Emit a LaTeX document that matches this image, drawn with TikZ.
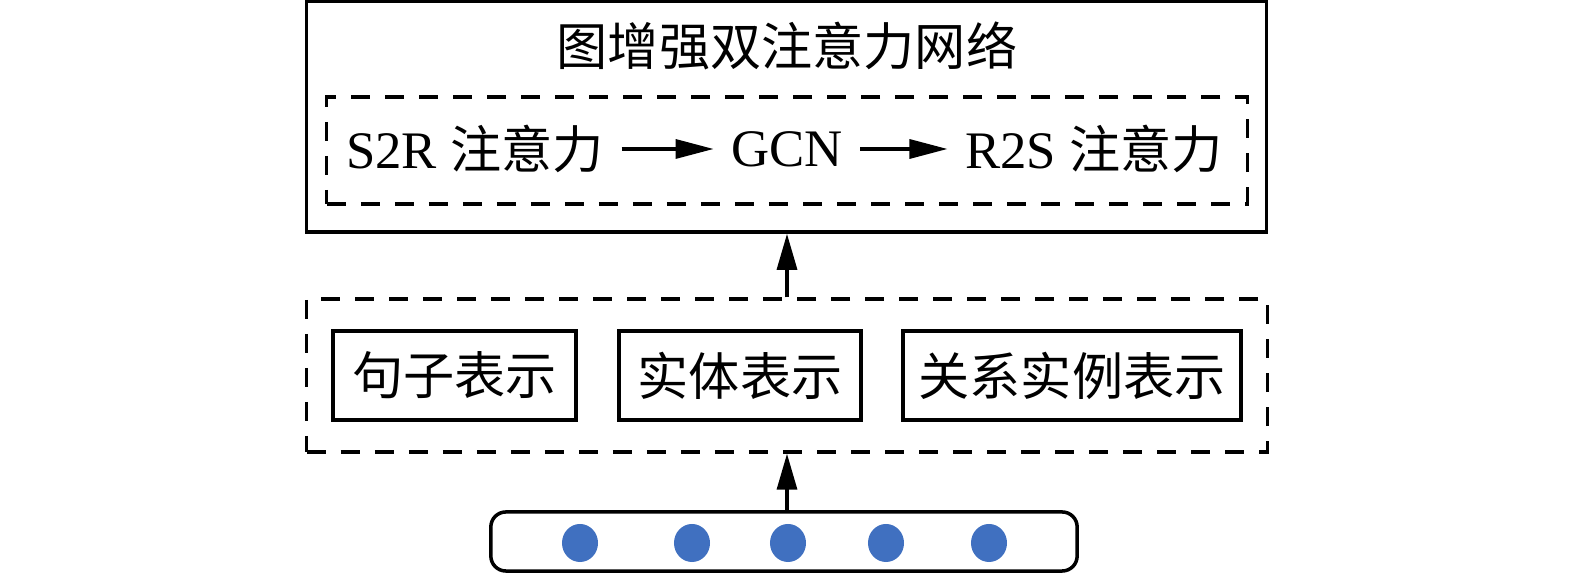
\documentclass[tikz,border=0pt]{standalone}
\usepackage{fontspec}
\setmainfont{Liberation Serif}
\newfontfamily\cjk[Scale=0.97]{Noto Sans CJK SC}
\usetikzlibrary{arrows.meta}
\definecolor{dotblue}{RGB}{64,112,192}
\tikzset{
  solidbox/.style={draw, line width=0.035cm, inner sep=0pt},
  dashbox/.style={draw, line width=0.033cm, dash pattern=on 0.19cm off 0.15cm, inner sep=0pt},
  label/.style={inner sep=0.17cm},
  arr/.style={line width=0.033cm, -{Triangle[length=0.36cm, width=0.2cm]}},
  harr/.style={line width=0.033cm, -{Triangle[length=0.38cm, width=0.19cm]}},
  dot/.style={ellipse, fill=dotblue, inner sep=0pt, minimum width=0.36cm, minimum height=0.38cm}
}
\usetikzlibrary{shapes.geometric}
\begin{document}
\begin{tikzpicture}[x=0.01cm, y=-0.01cm]
    \useasboundingbox (0,0) rectangle (1575,574);
    {\fontsize{15pt}{18pt}\selectfont

    % Drawing network box
    \node [solidbox, minimum width=9.59cm, minimum height=2.31cm] (net) at (786.5,116.5) {};
    \node (title) at (787,46) {\cjk 图增强双注意力网络};

    % Drawing attention chain
    \node [dashbox, minimum width=9.2cm, minimum height=1.07cm] (attn) at (787,150.5) {};
    \node [label] (s2r) at (475,149) {S2R {\cjk 注意力}};
    \node [label] (gcn) at (787,149) {GCN};
    \node [label] (r2s) at (1094,149) {R2S {\cjk 注意力}};
    \draw [harr] (s2r.east) -- (gcn.west);
    \draw [harr] (gcn.east) -- (r2s.west);

    % Drawing representations
    \node [dashbox, minimum width=9.6cm, minimum height=1.53cm] (repr) at (787,375.5) {};
    \node [solidbox, minimum width=2.43cm, minimum height=0.89cm] (sent) at (454.5,375.5) {\cjk 句子表示};
    \node [solidbox, minimum width=2.42cm, minimum height=0.89cm] (ent) at (740,375.5) {\cjk 实体表示};
    \node [solidbox, minimum width=3.38cm, minimum height=0.89cm] (rel) at (1072,375.5) {\cjk 关系实例表示};

    % Drawing input tokens
    \node [solidbox, rounded corners=0.15cm, minimum width=5.86cm, minimum height=0.59cm] (input) at (784,541.5) {};
    \foreach \i/\x in {1/580, 2/692, 3/788, 4/886, 5/989}
        \node [dot] (d\i) at (\x,543) {};

    % Drawing arrows
    \draw [arr] (input.north -| repr.south) -- (repr.south);
    \draw [arr] (repr.north) -- (net.south -| repr.north);
    }
\end{tikzpicture}
\end{document}
